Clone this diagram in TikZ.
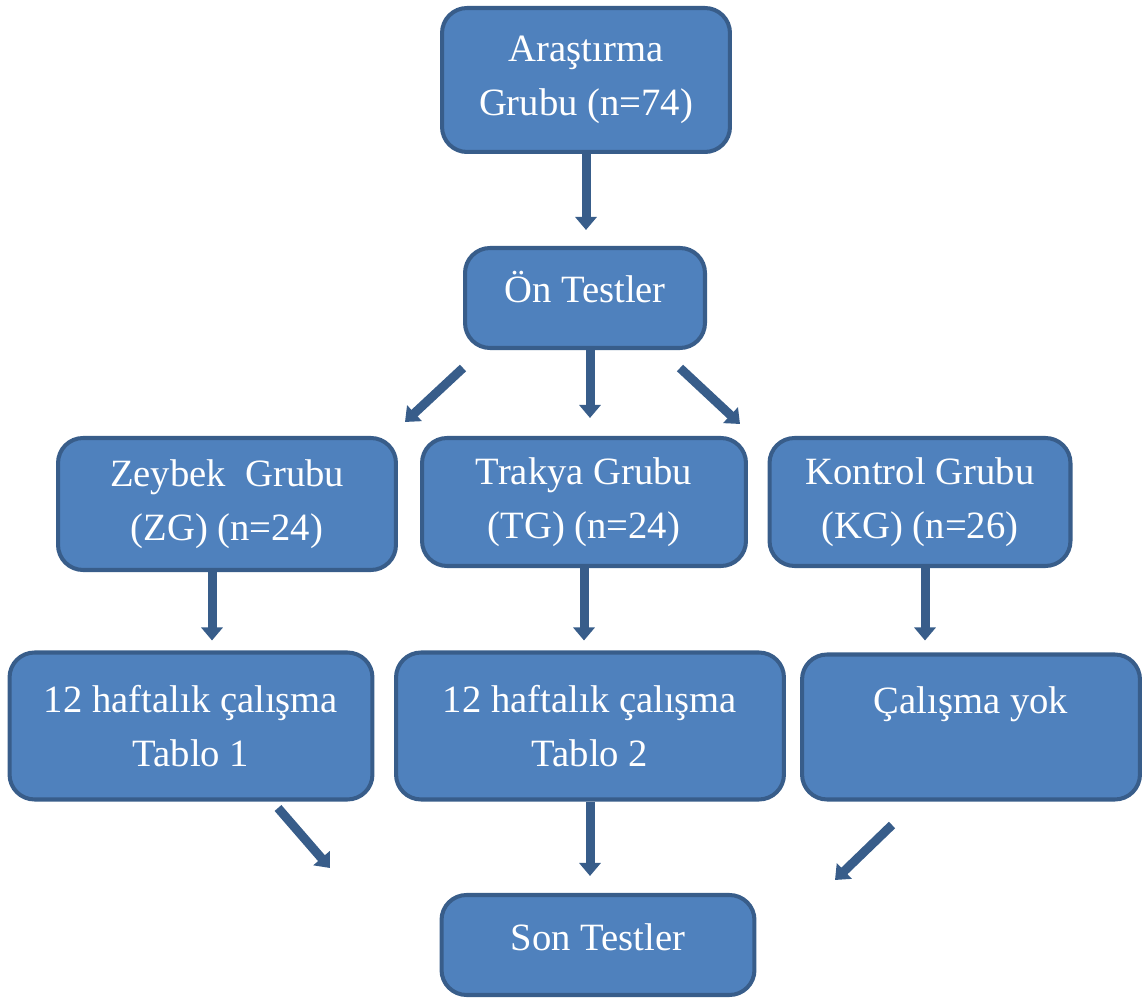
\documentclass[tikz,border=0pt]{standalone}
\usepackage{fontspec}
\setmainfont{Liberation Serif}
\usetikzlibrary{positioning,arrows.meta}
\definecolor{boxfill}{HTML}{4F81BD}
\definecolor{boxline}{HTML}{385D8A}

\begin{document}
\begin{tikzpicture}[
  x=0.02cm,y=-0.02cm,
  font=\fontsize{22}{31}\selectfont,
  box/.style={draw=boxline,fill=boxfill,line width=2.3pt,rounded corners=0.5cm,text=white,align=center,inner sep=0pt},
  arr/.style={draw=boxline,line width=0.18cm,-{Triangle[width=0.42cm,length=0.26cm]}}
]
\useasboundingbox (0,0) rectangle (1143,999);
\node[box,minimum width=5.76cm,minimum height=2.88cm] (top) at (586,80) {Araştırma\\Grubu (n=74)};
\node[box,minimum width=4.8cm,minimum height=2cm,text depth=0.44cm] (on) at (585,298) {Ön Testler};
\node[box,minimum width=6.76cm,minimum height=2.64cm] (zg) at (227,504) {Zeybek\ \ Grubu\\(ZG) (n=24)};
\node[box,minimum width=6.48cm,minimum height=2.56cm] (tg) at (584,502) {Trakya Grubu\\(TG) (n=24)};
\node[box,minimum width=6.02cm,minimum height=2.56cm] (kg) at (920,502) {Kontrol Grubu\\(KG) (n=26)};
\node[box,minimum width=7.26cm,minimum height=2.94cm] (t1) at (191,726) {12 haftalık çalışma\\Tablo 1};
\node[box,minimum width=7.76cm,minimum height=2.94cm] (t2) at (590,726) {12 haftalık çalışma\\Tablo 2};
\node[box,minimum width=6.76cm,minimum height=2.9cm] (cy) at (971,727) {Çalışma yok\\\mbox{}};
\node[box,minimum width=6.26cm,minimum height=2cm,text depth=0.3cm] (son) at (598,945) {Son Testler};

% free arrows between the rows
\coordinate (d1s) at (463,368); \coordinate (d1e) at (405,422);
\coordinate (d2s) at (680,368); \coordinate (d2e) at (740,424);
\coordinate (d3s) at (278,808); \coordinate (d3e) at (330,868);
\coordinate (d4s) at (892,825); \coordinate (d4e) at (835,880);

\draw[arr,shorten >=0.32cm] (top.south) -- (top.south |- on.north);
\draw[arr] (d1s) -- (d1e);
\draw[arr,shorten >=0.36cm] ([xshift=0.1cm]on.south) -- ([xshift=0.1cm]on.south |- tg.north);
\draw[arr] (d2s) -- (d2e);
\draw[arr,shorten >=0.2cm] ([xshift=-0.3cm]zg.south) -- ([xshift=-0.3cm]zg.south |- t1.north);
\draw[arr,shorten >=0.2cm] (tg.south) -- (tg.south |- t2.north);
\draw[arr,shorten >=0.24cm] ([xshift=0.1cm]kg.south) -- ([xshift=0.1cm]kg.south |- cy.north);
\draw[arr] (d3s) -- (d3e);
\draw[arr,shorten >=0.34cm] (t2.south) -- (t2.south |- son.north);
\draw[arr] (d4s) -- (d4e);
\end{tikzpicture}
\end{document}
